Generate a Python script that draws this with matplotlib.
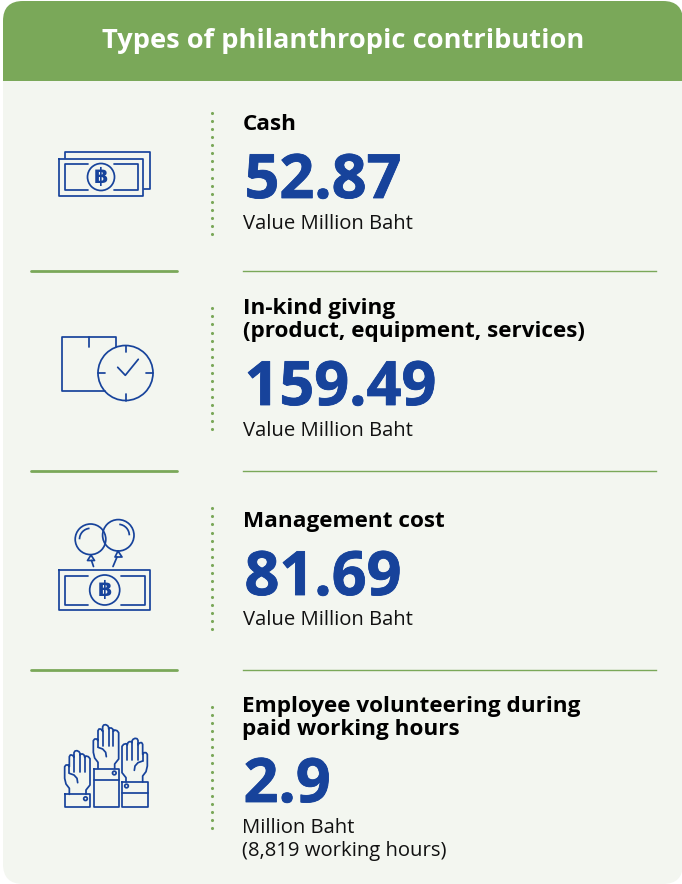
import numpy as np
import matplotlib
matplotlib.use('Agg')
import matplotlib.pyplot as plt
import matplotlib.patheffects as pe
from matplotlib.patches import FancyBboxPatch, Rectangle, Circle, Arc

title = 'Types of philanthropic contribution'
categories = ['Cash', 'In-kind giving\n(product, equipment, services)', 'Management cost',
              'Employee volunteering during\npaid working hours']
values = ['52.87', '159.49', '81.69', '2.9']
units = ['Value Million Baht', 'Value Million Baht', 'Value Million Baht',
         'Million Baht\n(8,819 working hours)']

GREEN = '#7AA859'
PANEL = '#F3F6F0'
BLUE = '#17439B'
ICON_LW = 1.25
plt.rcParams['font.family'] = ['Open Sans', 'DejaVu Sans']

fig = plt.figure(figsize=(6.82, 8.84), dpi=100)
ax = fig.add_axes([0, 0, 1, 1])
ax.set_xlim(0, 682)
ax.set_ylim(884, 0)
ax.axis('off')


def line(xs, ys, lw=ICON_LW, color=BLUE):
    ax.plot(xs, ys, color=color, lw=lw, solid_capstyle='round', solid_joinstyle='round')


def rect(x0, y0, x1, y1):
    line([x0, x1, x1, x0, x0], [y0, y0, y1, y1, y0])


def circle(cx, cy, r, lw=ICON_LW):
    ax.add_patch(Circle((cx, cy), r, fill=False, ec=BLUE, lw=lw))


def baht(cx, cy, s=1.0):
    ax.text(cx, cy, '\u0e3f', color=BLUE, fontsize=15 * s, ha='center', va='center',
            fontweight='bold', family=['DejaVu Sans'])


def bill_inner(x0, y0, x1, y1, g0, g1):
    line([g0, x0, x0, g0], [y0, y0, y1, y1])
    line([g1, x1, x1, g1], [y0, y0, y1, y1])


def hand(ox, oy, mirror=False):
    # outline traced from the left hand in zoomed pixels
    px = [208, 208, 198, 194, 194, 198, 204, 208, 208, 211, 215, 219, 222, 222, 225, 231, 237, 240,
          240, 243, 248, 252, 254, 254, 258, 265, 270, 270, 258, 258]
    py = [943, 925, 912, 895, 860, 855, 855, 860, 830, 825, 825, 827, 832, 818, 813, 812, 815, 820,
          825, 822, 822, 825, 830, 832, 828, 830, 836, 915, 930, 943]
    px, py = np.array(px, float), np.array(py, float)

    def tr(x, y):
        x = np.asarray(x, float)
        y = np.asarray(y, float)
        if mirror:
            x = 636 - x
        return (x + ox) / 3, (y + oy + 1440) / 3

    line(*tr(px, py))
    for fx, ftop in [(222, 832), (240, 825), (254, 832)]:
        line(*tr([fx, fx], [ftop, 876]))
    line(*tr([208, 208], [860, 880]))
    line(*tr([208, 222, 231, 233], [880, 885, 895, 908]))


# panel and header
ax.add_patch(FancyBboxPatch((3 + 20, 1 + 20), 680 - 40, 883 - 40, boxstyle='round,pad=20,rounding_size=20',
                            fc=PANEL, ec='none'))
header = FancyBboxPatch((3 + 20, 1 + 20), 680 - 40, 100, boxstyle='round,pad=20,rounding_size=20',
                        fc=GREEN, ec='none')
ax.add_patch(header)
header.set_clip_path(Rectangle((0, 0), 682, 80.5, transform=ax.transData))
ax.text(343, 48.5, title, color='white', fontsize=19.6, fontweight='bold', ha='center', va='baseline')

# separators
for y in [271, 470.5, 670]:
    line([31, 177], [y + 0.3, y + 0.3], lw=2.0, color=GREEN)
    ax.plot([243, 656], [y, y], color=GREEN, lw=1.0)

# dotted rules
for y0 in [113, 308.3, 508.3, 707]:
    ys = y0 + np.arange(16) * 8.07
    ax.scatter(np.full(16, 211.5), ys, s=5, color=GREEN, linewidths=0)

# text blocks, y is the baseline of the last line
title_y = [130, 337, 527, 734.5]
value_y = [198, 405, 595, 802]
unit_y = [229, 436.5, 625, 856]
text_x = [243, 243, 243, 242]
for i in range(4):
    ax.text(text_x[i], title_y[i], categories[i], fontsize=16.2, fontweight='bold', color='black',
            ha='left', va='baseline', linespacing=1.12)
    t = ax.text(text_x[i] + 1.5, value_y[i], values[i], fontsize=44, fontweight='bold', color=BLUE,
                ha='left', va='baseline')
    t.set_path_effects([pe.withStroke(linewidth=0.6, foreground=BLUE)])
    ax.text(text_x[i], unit_y[i], units[i], fontsize=14.6, color='#111111',
            ha='left', va='baseline', linespacing=1.2)

# cash icon
line([65.3, 65.3, 150, 150, 143.5], [158, 151.7, 151.7, 189.3, 189.3])
rect(59, 158.5, 143, 196)
bill_inner(64.5, 164, 138, 190, 88, 114)
circle(101, 177, 13.5)
baht(101, 177)

# in-kind icon
line([116, 116, 62, 62, 105], [347, 336.7, 336.7, 391, 391])
line([89, 89], [336.7, 347])
circle(125.5, 373, 27.5)
line([125.5, 125.5], [345.5, 352])
line([125.5, 125.5], [394, 400.5])
line([98, 105], [373, 373])
line([146, 153], [373, 373])
line([117.7, 125.3, 138.3], [367.3, 375.3, 359.3])

# management cost icon
rect(59, 570.3, 150, 610.3)
bill_inner(64.5, 576, 145, 605, 88, 121)
circle(104.7, 590, 15)
baht(104.7, 590)
circle(90.5, 539.3, 15.3)
circle(118.3, 535.3, 15.7)
ax.add_patch(Arc((90.5, 539.3), 22, 22, theta1=180, theta2=265, ec=BLUE, lw=ICON_LW))
ax.add_patch(Arc((118.3, 535.3), 22, 22, theta1=275, theta2=360, ec=BLUE, lw=ICON_LW))
line([91, 87.5, 94.5, 91], [555, 560.5, 560.5, 555])
line([91.5, 93.5], [560.5, 566.5])
line([118, 115, 122, 118], [551, 557, 557, 551])
line([117, 113], [557, 566.5])

# volunteering icon
rect(64.7, 794.3, 90, 807)
circle(85.5, 798.7, 1.8)
rect(93.5, 768.7, 118.5, 807)
line([93.5, 118.5], [780.3, 780.3])
circle(114.3, 773, 1.8)
rect(122, 782, 147.5, 807)
line([122, 147.5], [793.3, 793.3])
circle(126.5, 786, 1.8)
hand(0, 0)
hand(86, -78)
hand(0, -37, mirror=True)

fig.savefig('out.png', dpi=100, facecolor='white')
